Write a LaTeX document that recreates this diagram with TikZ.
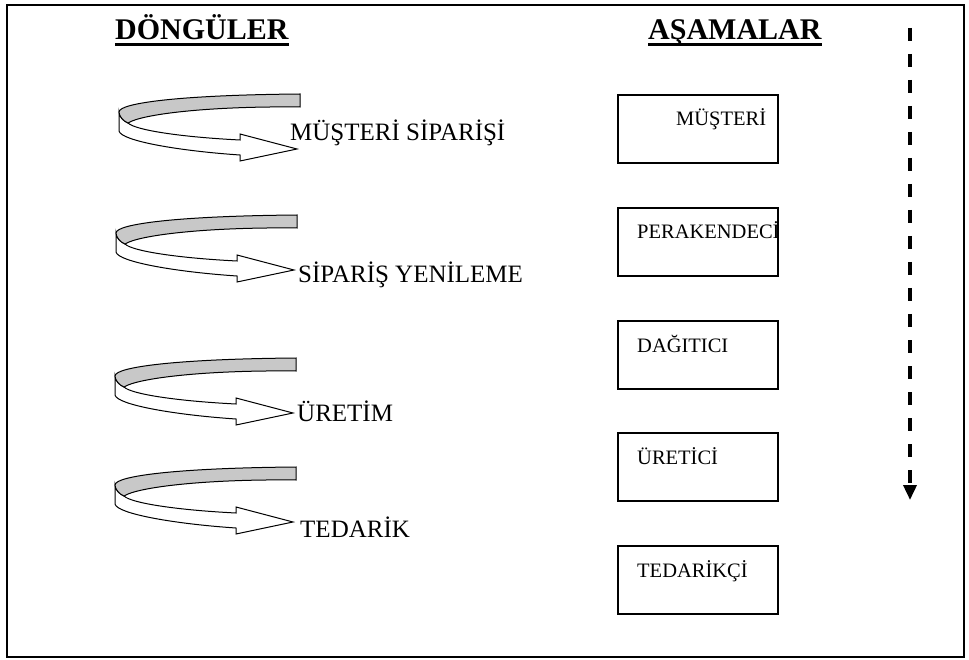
\documentclass[tikz,border=0pt]{standalone}
\usepackage{fontspec}
\setmainfont{Liberation Serif}
\usetikzlibrary{arrows.meta}
\definecolor{bandgrey}{RGB}{200,200,200}
\begin{document}
\begin{tikzpicture}[x=1pt,y=-1pt,
  arrline/.style={draw=black,line width=1pt,line join=miter},
  lbl/.style={anchor=base west,inner sep=0pt,font=\fontsize{25}{30}\selectfont},
  boxtxt/.style={anchor=base west,inner sep=0pt,font=\fontsize{20.5}{25}\selectfont},
  headtxt/.style={anchor=base west,inner sep=0pt,font=\fontsize{30}{36}\selectfont\bfseries},
  stagebox/.style={draw=black,line width=2pt,anchor=north west,inner sep=0pt,minimum width=160pt,minimum height=68pt},
  curvarrow/.pic={
    \draw[arrline,fill=white] (-181,18) -- (-181,37) .. controls (-179,47) and (-120,57) .. (-60,61) -- (-60,67) -- (-3,55) -- (-60,40) -- (-60,46) .. controls (-120,43) and (-165,36) .. (-172,29) .. controls (-177,27) and (-181,22) .. (-181,18) -- cycle;
    \draw[arrline,fill=bandgrey] (0,0) .. controls (-120,1) and (-181,9) .. (-181,18) .. controls (-181,22) and (-177,27) .. (-172,29) .. controls (-158,20) and (-90,12) .. (0,13) -- cycle;
  }]
\useasboundingbox (0,0) rectangle (969,660);
\fill[white] (0,0) rectangle (969,660);
\draw[line width=2pt] (7,5) rectangle (964,657);

% headings
\node[headtxt] (h1) at (115,40) {DÖNGÜLER};
\node[headtxt] (h2) at (648,40) {AŞAMALAR};
\draw[line width=2.5pt] ([yshift=-4.5pt]h1.base west) -- ([yshift=-4.5pt]h1.base east);
\draw[line width=2.5pt] ([yshift=-4.5pt]h2.base west) -- ([yshift=-4.5pt]h2.base east);

% cycles
\pic (a1) at (300,94) {curvarrow};
\pic (a2) at (297,215) {curvarrow};
\pic (a3) at (296,358) {curvarrow};
\pic (a4) at (296,467) {curvarrow};
\node[lbl] (l1) at (290,141) {MÜŞTERİ SİPARİŞİ};
\node[lbl] (l2) at (298,283) {SİPARİŞ YENİLEME};
\node[lbl] (l3) at (297,421) {ÜRETİM};
\node[lbl] (l4) at (300,537) {TEDARİK};

% stages
\node[stagebox] (b1) at (617,94) {};
\node[stagebox] (b2) at (617,207) {};
\node[stagebox] (b3) at (617,320) {};
\node[stagebox] (b4) at (617,432) {};
\node[stagebox] (b5) at (617,545) {};
\node[boxtxt] (t1) at (676,126) {MÜŞTERİ};
\node[boxtxt] (t2) at (637,239) {PERAKENDECİ};
\node[boxtxt] (t3) at (637,352) {DAĞITICI};
\node[boxtxt] (t4) at (637,464) {ÜRETİCİ};
\node[boxtxt] (t5) at (637,577) {TEDARİKÇİ};

% dashed direction arrow
\coordinate (d0) at (910,28);
\coordinate (d1) at (910,500);
\draw[line width=3.5pt,dash pattern=on 13pt off 13pt,-{Triangle[width=13pt,length=15pt]}] (d0) -- (d1);
\end{tikzpicture}
\end{document}
